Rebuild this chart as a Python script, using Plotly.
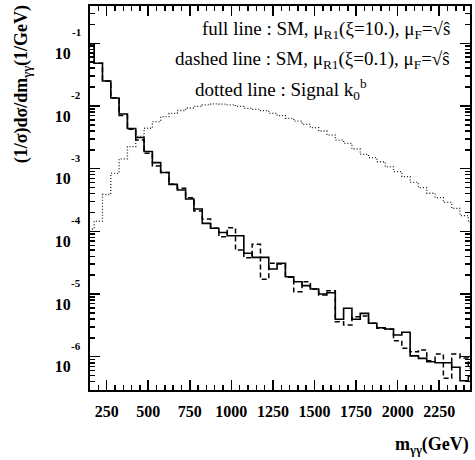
import plotly.graph_objects as go
import math

# ---------------- data ----------------
bin_width = 50  # GeV
bin_centers = list(range(150, 2451, 50))  # GeV, 47 bins

# full line : SM, mu_R1(xi=10.)
sm_xi10 = [0.0975, 4.80e-2, 2.51e-2, 1.34e-2, 7.45e-3, 4.38e-3, 3.14e-3, 1.88e-3, 1.25e-3, 8.69e-4,
           5.62e-4, 4.57e-4, 3.28e-4, 2.27e-4, 1.34e-4, 1.12e-4, 9.57e-5, 8.51e-5, 8.51e-5, 4.47e-5,
           3.85e-5, 3.85e-5, 2.51e-5, 3.09e-5, 1.89e-5, 1.57e-5, 1.36e-5, 1.20e-5, 1.00e-5, 1.05e-5,
           3.95e-6, 5.92e-6, 3.95e-6, 4.92e-6, 3.41e-6, 2.90e-6, 2.77e-6, 2.22e-6, 2.45e-6, 1.03e-6,
           9.42e-7, 8.32e-7, 8.02e-7, 8.02e-7, 6.78e-7, 4.14e-7, 4.92e-7]

# dashed line : SM, mu_R1(xi=0.1)
sm_xi01 = [0.0975, 4.80e-2, 2.51e-2, 1.34e-2, 7.05e-3, 4.25e-3, 2.86e-3, 1.76e-3, 1.10e-3, 8.69e-4,
           5.62e-4, 4.86e-4, 3.44e-4, 2.11e-4, 1.57e-4, 1.12e-4, 8.20e-5, 1.14e-4, 5.04e-5, 3.79e-5,
           6.21e-5, 1.72e-5, 3.09e-5, 3.01e-5, 1.85e-5, 1.09e-5, 1.57e-5, 1.20e-5, 9.64e-6, 1.13e-5,
           3.61e-6, 3.21e-6, 4.35e-6, 4.46e-6, 3.41e-6, 2.84e-6, 2.74e-6, 1.80e-6, 1.36e-6, 1.20e-6,
           1.28e-6, 8.63e-7, 1.10e-6, 4.52e-7, 1.10e-6, 9.53e-7, 6.61e-7]

# dotted line : Signal k0^b
signal_k0b = [1.09e-4, 1.46e-4, 3.87e-4, 8.43e-4, 1.43e-3, 2.24e-3, 3.26e-3, 4.41e-3, 5.61e-3, 6.75e-3,
              7.64e-3, 8.47e-3, 9.29e-3, 9.82e-3, 1.04e-2, 1.08e-2, 1.07e-2, 1.04e-2, 9.82e-3, 9.18e-3,
              8.85e-3, 8.41e-3, 7.64e-3, 7.00e-3, 6.36e-3, 5.75e-3, 5.10e-3, 4.50e-3, 3.99e-3, 3.44e-3,
              2.86e-3, 2.54e-3, 2.06e-3, 1.69e-3, 1.50e-3, 1.29e-3, 1.07e-3, 8.95e-4, 7.45e-4, 6.05e-4,
              4.97e-4, 4.05e-4, 3.44e-4, 2.90e-4, 2.33e-4, 1.78e-4, 1.41e-4]

x_tick_vals = [250, 500, 750, 1000, 1250, 1500, 1750, 2000, 2250]
x_tick_text = ["250", "500", "750", "1000", "1250", "1500", "1750", "2000", "2250"]
y_decades = [1e-6, 1e-5, 1e-4, 1e-3, 1e-2, 1e-1]
y_exponents = ["-6", "-5", "-4", "-3", "-2", "-1"]

legend_lines = [
    "full line : SM, μ<sub>R1</sub>(ξ=10.), μ<sub>F</sub>=√ŝ",
    "dashed line : SM, μ<sub>R1</sub>(ξ=0.1), μ<sub>F</sub>=√ŝ",
    "dotted line : Signal k<sub>0</sub><sup>b</sup>",
]


def step_xy(centers, values):
    edges = [c - bin_width / 2 for c in centers] + [centers[-1] + bin_width / 2]
    return edges, list(values) + [values[-1]]


SERIF = "Liberation Serif"
fig = go.Figure()

for vals, dash, width, color in [
    (signal_k0b, "1px,2px", 1.3, "#222"),
    (sm_xi01, "5px,3px", 1.5, "black"),
    (sm_xi10, "solid", 1.6, "black"),
]:
    xs, ys = step_xy(bin_centers, vals)
    fig.add_trace(go.Scatter(x=xs, y=ys, mode="lines", line_shape="hv",
                             line=dict(color=color, width=width, dash=dash),
                             hoverinfo="skip", showlegend=False))

minor_y = [m * 10 ** e for e in range(-7, 0) for m in range(2, 10)]

fig.update_layout(
    width=475, height=460,
    margin=dict(l=90, r=3, t=6, b=70),
    paper_bgcolor="white", plot_bgcolor="white",
    showlegend=False,
    xaxis=dict(
        range=[150, 2435], tickmode="array", tickvals=x_tick_vals, ticktext=x_tick_text,
        ticks="inside", ticklen=10, tickwidth=1.5, tickcolor="black",
        minor=dict(dtick=50, tick0=0, ticks="inside", ticklen=5, tickwidth=1.5, tickcolor="black", showgrid=False),
        showline=True, linewidth=2, linecolor="black", mirror="allticks",
        showgrid=False, zeroline=False,
        tickfont=dict(family=SERIF, size=16, color="black", weight="bold"),
        ticklabelstandoff=6,
    ),
    yaxis=dict(
        type="log", range=[-6.531, -0.405],
        tickmode="array", tickvals=y_decades, ticktext=["10"] * len(y_decades),
        ticks="inside", ticklen=10, tickwidth=1.5, tickcolor="black",
        minor=dict(tickmode="array", tickvals=minor_y, ticks="inside", ticklen=5, tickwidth=1.5,
                   tickcolor="black", showgrid=False),
        showline=True, linewidth=2, linecolor="black", mirror="allticks",
        showgrid=False, zeroline=False,
        tickfont=dict(family=SERIF, size=16, color="black", weight="bold"),
        ticklabelshift=10, ticklabelstandoff=14,
    ),
)

annotations = []
for dec, ex in zip(y_decades, y_exponents):
    annotations.append(dict(x=(76 - 90) / 382, xref="paper", y=math.log10(dec), yref="y",
                            text=ex, showarrow=False, xanchor="center", yanchor="middle", yshift=11,
                            font=dict(family=SERIF, size=11, color="black", weight="bold")))

# (anchor x, anchor y, xanchor) in page pixels
legend_pos = [(454, 30, "right"), (454, 60, "right"), (282, 89, "center")]
for txt, (px, py, xa) in zip(legend_lines, legend_pos):
    annotations.append(dict(x=(px - 90) / 382, xref="paper", y=(390 - py) / 384, yref="paper",
                            text=txt, showarrow=False, xanchor=xa, yanchor="middle",
                            font=dict(family=SERIF, size=19, color="black")))

annotations.append(dict(x=(22 - 90) / 382, xref="paper", y=1 + 3 / 384, yref="paper",
                        text="(1/σ)dσ/dm<sub>γγ</sub>(1/GeV)", textangle=-90, showarrow=False,
                        xanchor="center", yanchor="top",
                        font=dict(family=SERIF, size=18, color="black", weight="bold")))
annotations.append(dict(x=(473 - 90) / 382, xref="paper", y=(390 - 445) / 384, yref="paper",
                        text="m<sub>γγ</sub>(GeV)", showarrow=False, xanchor="right", yanchor="middle",
                        font=dict(family=SERIF, size=18, color="black", weight="bold")))

fig.update_layout(annotations=annotations)
fig.write_html("out.html", config={"displayModeBar": False, "staticPlot": True},
               post_script="document.body.style.margin='0px';")
